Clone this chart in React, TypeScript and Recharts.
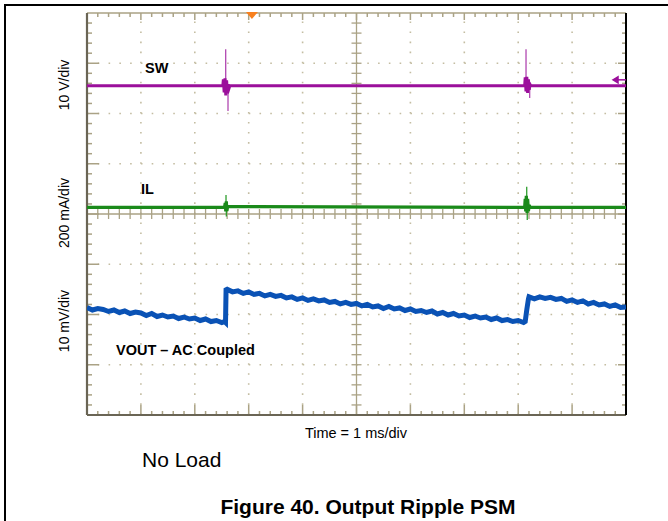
import React from 'react';
import { ComposedChart, Line, XAxis, YAxis, ReferenceLine, ReferenceDot } from 'recharts';

// time is in ms (1 ms/div), levels are screen divisions counted up from the bottom edge (8 div)

// SW: flat line with ringing at each switching event
const swTime = [0, 2.52, 2.53, 2.545, 2.56, 2.575, 2.59, 2.605, 2.62, 2.635, 2.65, 8.12, 8.13, 8.145, 8.16, 8.175, 8.19, 8.205, 8.22, 8.235, 10];
const swLevel = [6.55, 6.55, 6.68, 6.42, 6.7, 6.36, 6.66, 6.4, 6.58, 6.5, 6.55, 6.55, 6.72, 6.44, 6.73, 6.41, 6.68, 6.47, 6.58, 6.55, 6.55];
const swSpikeTime = [2.573, 2.573, 2.574, 2.616, 2.616, 2.617, 8.145, 8.145, 8.146, 8.213, 8.213, 8.214];
const swSpikeLevel = [6.55, 7.28, 6.55, 6.55, 6.05, 6.55, 6.55, 7.28, 6.55, 6.55, 6.31, 6.55];

// IL: near zero inductor current, small pulses at switching
const ilTime = [0, 2.55, 2.565, 2.575, 2.585, 2.595, 2.61, 8.12, 8.13, 8.14, 8.15, 8.165, 8.175, 8.19, 8.205, 8.22, 10];
const ilLevel = [4.13, 4.13, 4.22, 4.05, 4.25, 4.06, 4.15, 4.13, 4.3, 4.05, 4.36, 4.02, 4.3, 4.06, 4.18, 4.13, 4.13];
const ilSpikeTime = [2.579, 2.579, 2.58, 2.585, 2.585, 2.586, 8.158, 8.158, 8.159, 8.168, 8.168, 8.169];
const ilSpikeLevel = [4.13, 4.38, 4.13, 4.13, 3.95, 4.13, 4.13, 4.54, 4.13, 4.13, 3.88, 4.13];

// VOUT ripple (AC coupled), sawtooth with noise
const voutTime = [
  0, 0.1, 0.2, 0.3, 0.4, 0.5, 0.6, 0.7, 0.8, 0.9, 1.0, 1.1, 1.2, 1.3, 1.4, 1.5, 1.6, 1.7, 1.8, 1.9,
  2.0, 2.1, 2.2, 2.3, 2.4, 2.5, 2.55, 2.57, 2.58,
  2.6, 2.7, 2.8, 2.9, 3.0, 3.1, 3.2, 3.3, 3.4, 3.5, 3.6, 3.7, 3.8, 3.9, 4.0, 4.1, 4.2, 4.3, 4.4, 4.5,
  4.6, 4.7, 4.8, 4.9, 5.0, 5.1, 5.2, 5.3, 5.4, 5.5, 5.6, 5.7, 5.8, 5.9, 6.0, 6.1, 6.2, 6.3, 6.4, 6.5,
  6.6, 6.7, 6.8, 6.9, 7.0, 7.1, 7.2, 7.3, 7.4, 7.5, 7.6, 7.7, 7.8, 7.9, 8.0, 8.1,
  8.13, 8.16, 8.19,
  8.2, 8.3, 8.4, 8.5, 8.6, 8.7, 8.8, 8.9, 9.0, 9.1, 9.2, 9.3, 9.4, 9.5, 9.6, 9.7, 9.8, 9.9, 10.0,
];
const voutLevel = [
  2.14, 2.09, 2.12, 2.1, 2.06, 2.09, 2.04, 2.07, 2.02, 2.05, 2.03, 1.98, 2.02, 1.96, 1.99, 1.95, 1.97, 1.92, 1.95, 1.91,
  1.93, 1.88, 1.91, 1.86, 1.88, 1.84, 1.86, 1.84, 2.49,
  2.5, 2.45, 2.47, 2.42, 2.45, 2.4, 2.42, 2.37, 2.4, 2.36, 2.38, 2.33, 2.35, 2.3, 2.33, 2.28, 2.31, 2.27, 2.29, 2.24,
  2.26, 2.21, 2.24, 2.2, 2.22, 2.17, 2.2, 2.15, 2.17, 2.12, 2.16, 2.11, 2.13, 2.08, 2.11, 2.06, 2.08, 2.04, 2.07, 2.01,
  2.04, 1.99, 2.02, 1.97, 1.99, 1.94, 1.97, 1.93, 1.95, 1.9, 1.93, 1.88, 1.9, 1.86, 1.88, 1.84,
  1.86, 2.1, 2.31,
  2.35, 2.31, 2.35, 2.32, 2.34, 2.3, 2.32, 2.26, 2.29, 2.24, 2.27, 2.21, 2.24, 2.19, 2.21, 2.16, 2.19, 2.14, 2.15,
];

// graticule
const gridX = [1, 2, 3, 4, 6, 7, 8, 9];
const gridY = [1, 2, 3, 5, 6, 7];
const minorX = Array.from({ length: 49 }, (_, i) => (i + 1) / 5);
const minorY = Array.from({ length: 39 }, (_, i) => (i + 1) / 5);
const triggerTime = 3.06;
const swMarkerLevel = 6.67;

const toPoints = (time: number[], level: number[]) => time.map((t, i) => ({ t, v: level[i] }));

const TICK = '#aaa285';
const DOT = '#c4bda2';
const FONT = '"Liberation Sans", Arial, sans-serif';
// px per unit, used only to size tick marks
const PX_X = 53.9;
const PX_Y = 50.25;

const isMajor = (v: number) => Math.abs(v - Math.round(v)) < 1e-6;

const Trigger = (props: any) => {
  const { cx, cy } = props;
  return <polygon points={`${cx - 6},${cy - 1} ${cx + 6},${cy - 1} ${cx},${cy + 6}`} fill="#f7801e" />;
};

const ChannelArrow = (props: any) => {
  const { cx, cy } = props;
  return (
    <g stroke="#9b0f9b" strokeWidth={1.5} fill="#9b0f9b">
      <line x1={cx - 11} y1={cy} x2={cx} y2={cy} />
      <polygon points={`${cx - 13},${cy} ${cx - 8},${cy - 3} ${cx - 8},${cy + 3}`} />
    </g>
  );
};

const OscilloscopeShot = () => {
  return (
    <div style={{ position: 'absolute', left: 0, top: 0, width: 668, height: 521, overflow: 'hidden', background: '#fff' }}>
      <div style={{ position: 'absolute', left: 4, top: 4, width: 700, height: 600, borderLeft: '2px solid #000', borderTop: '2px solid #000' }} />
      <div style={{ position: 'absolute', left: 0, top: 0 }}>
        <ComposedChart width={668} height={521} margin={{ top: 13, right: 42, bottom: 106, left: 87 }}>
          <XAxis dataKey="t" type="number" domain={[0, 10]} allowDataOverflow hide />
          <YAxis type="number" domain={[0, 8]} allowDataOverflow hide />

          {gridX.map((g) => (
            <ReferenceLine key={`gx${g}`} x={g} stroke={DOT} strokeWidth={1.6} strokeDasharray="1.6 8.45" />
          ))}
          {gridY.map((g) => (
            <ReferenceLine key={`gy${g}`} y={g} stroke={DOT} strokeWidth={1.6} strokeDasharray="1.6 9.18" />
          ))}
          <ReferenceLine x={5} stroke={TICK} strokeWidth={1.3} />
          <ReferenceLine y={4} stroke={TICK} strokeWidth={1.3} />
          {minorY.map((m) => (
            <ReferenceLine key={`cy${m}`} segment={[{ x: 5 - 5 / PX_X, y: m }, { x: 5 + 5 / PX_X, y: m }]} stroke={TICK} strokeWidth={1.3} />
          ))}
          {minorX.map((m) => (
            <ReferenceLine key={`cx${m}`} segment={[{ x: m, y: 4 - 5 / PX_Y }, { x: m, y: 4 + 5 / PX_Y }]} stroke={TICK} strokeWidth={1.3} />
          ))}
          {minorX.map((m) => (
            <ReferenceLine key={`bt${m}`} segment={[{ x: m, y: 0 }, { x: m, y: (isMajor(m) ? 10 : 4) / PX_Y }]} stroke={TICK} strokeWidth={1.5} />
          ))}
          {minorX.map((m) => (
            <ReferenceLine key={`tt${m}`} segment={[{ x: m, y: 8 }, { x: m, y: 8 - (isMajor(m) ? 7 : 4) / PX_Y }]} stroke={TICK} strokeWidth={1.5} />
          ))}
          {minorY.map((m) => (
            <ReferenceLine key={`lt${m}`} segment={[{ x: 0, y: m }, { x: (isMajor(m) ? 12 : 5) / PX_X, y: m }]} stroke={TICK} strokeWidth={1.5} />
          ))}
          {minorY.map((m) => (
            <ReferenceLine key={`rt${m}`} segment={[{ x: 10, y: m }, { x: 10 - (isMajor(m) ? 8 : 4) / PX_X, y: m }]} stroke={TICK} strokeWidth={1.5} />
          ))}
          <ReferenceLine y={8} stroke={TICK} strokeWidth={1.5} />
          <ReferenceLine y={0} stroke="#6a6555" strokeWidth={2.2} />
          <ReferenceLine x={0} stroke="#6a6555" strokeWidth={2.2} />
          <ReferenceLine x={10} stroke="#000" strokeWidth={2} />

          <Line data={toPoints(swSpikeTime, swSpikeLevel)} dataKey="v" type="linear" stroke="#b24ab2" strokeWidth={1.3} dot={false} isAnimationActive={false} />
          <Line data={toPoints(swTime, swLevel)} dataKey="v" type="linear" stroke="#9b0f9b" strokeWidth={3} dot={false} isAnimationActive={false} />
          <Line data={toPoints(ilSpikeTime, ilSpikeLevel)} dataKey="v" type="linear" stroke="#2f9f2f" strokeWidth={1.3} dot={false} isAnimationActive={false} />
          <Line data={toPoints(ilTime, ilLevel)} dataKey="v" type="linear" stroke="#1a8a1a" strokeWidth={3.2} dot={false} isAnimationActive={false} />
          <Line data={toPoints(voutTime, voutLevel)} dataKey="v" type="linear" stroke="#0a52b5" strokeWidth={5} dot={false} isAnimationActive={false} />

          <ReferenceDot x={triggerTime} y={8} r={6} shape={<Trigger />} ifOverflow="visible" />
          <ReferenceDot x={10} y={swMarkerLevel} r={5} shape={<ChannelArrow />} ifOverflow="visible" />
        </ComposedChart>
      </div>
      <svg width={668} height={521} style={{ position: 'absolute', left: 0, top: 0, pointerEvents: 'none' }} fontFamily={FONT}>
        <text transform="translate(69,85) rotate(-90)" textAnchor="middle" fontSize={14} fill="#000">10 V/div</text>
        <text transform="translate(69,213) rotate(-90)" textAnchor="middle" fontSize={14} fill="#000">200 mA/div</text>
        <text transform="translate(69,321) rotate(-90)" textAnchor="middle" fontSize={14} fill="#000">10 mV/div</text>
        <text x={145} y={73} fontSize={14.5} fontWeight="bold" fill="#000">SW</text>
        <text x={141} y={194} fontSize={14.5} fontWeight="bold" fill="#000">IL</text>
        <text x={116} y={355} fontSize={14.5} fontWeight="bold" fill="#000">VOUT – AC Coupled</text>
        <text x={356} y={438} fontSize={14.5} textAnchor="middle" fill="#000">Time = 1 ms/div</text>
        <text x={142} y={467} fontSize={21} fill="#000">No Load</text>
        <text x={368} y={514} fontSize={21} fontWeight="bold" textAnchor="middle" fill="#000">Figure 40. Output Ripple PSM</text>
      </svg>
    </div>
  );
};

export default function App() {
  return <OscilloscopeShot />;
}
